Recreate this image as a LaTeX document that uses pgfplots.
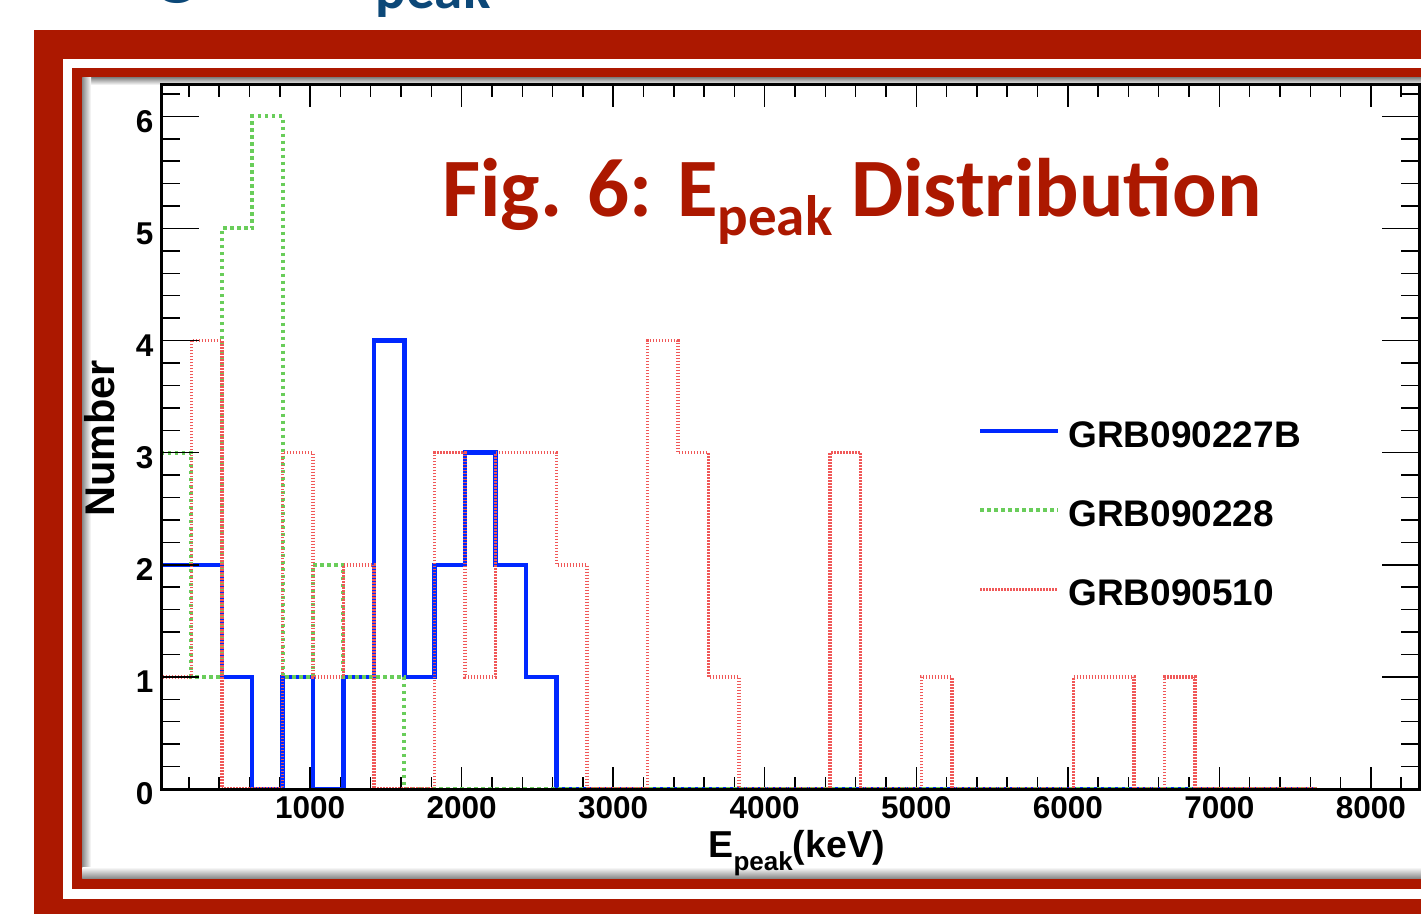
\documentclass[border=0pt]{standalone}
\usepackage{fontspec}
\setmainfont{Liberation Sans}
\newfontfamily\calibri{Carlito}
\usepackage{pgfplots}
\usepackage{pgfplotstable}
\pgfplotsset{compat=1.18}

\definecolor{framered}{RGB}{172,24,0}
\definecolor{hblue}{RGB}{0,40,255}
\definecolor{hgreen}{RGB}{105,205,90}
\definecolor{hred}{RGB}{240,88,88}
\definecolor{headblue}{RGB}{12,72,120}

% bin left edge, then counts for each burst
\pgfplotstableread{
e       b  g  r
16      0  0  0
16      2  3  1
216.7   2  1  4
417.4   1  5  0
618.1   0  6  0
818.8   1  1  3
1019.5  0  2  1
1220.2  1  1  2
1420.9  4  1  0
1621.6  1  0  0
1822.3  2  0  3
2023    3  0  1
2223.7  2  0  3
2424.4  1  0  3
2625.1  0  0  2
2825.8  0  0  0
3026.5  0  0  0
3227.2  0  0  4
3427.9  0  0  3
3628.6  0  0  1
3829.3  0  0  0
4030    0  0  0
4230.7  0  0  0
4431.4  0  0  3
4632.1  0  0  0
4832.8  0  0  0
5033.5  0  0  1
5234.2  0  0  0
5434.9  0  0  0
5635.6  0  0  0
5836.3  0  0  0
6037    0  0  1
6237.7  0  0  1
6438.4  0  0  0
6639.1  0  0  1
6839.8  0  0  0
7040.5  0  0  0
7241.2  0  0  0
7441.9  0  0  0
7642.6  0  0  0
}\hist

\newcommand{\headfont}{\calibri\bfseries\fontsize{83}{96}\selectfont}
\newcommand{\headsub}[1]{\raisebox{-19pt}{\fontsize{57}{57}\selectfont #1}}

\pgfplotsset{
  rootframe/.style={
    at={(161pt,125pt)}, anchor=south west,
    scale only axis, width=1258.5pt, height=704pt,
    xmin=16, xmax=8321, ymin=0, ymax=6.28,
    axis line style={line width=3pt},
    tick align=inside,
    tick style={black, line width=1.5pt},
    ticklabel style={font=\bfseries\fontsize{31.5}{38}\selectfont},
    /pgf/number format/assume math mode=true,
    /pgf/number format/1000 sep={},
  },
}

\begin{document}
\begin{tikzpicture}[x=1pt,y=1pt]
\clip (0,0) rectangle (1421,914);

% poster frame
\fill[framered] (34,0) rectangle (1421,884);
\fill[white] (63,15) rectangle (1421,855);
\fill[framered] (72.3,25) rectangle (1421,846);
\fill[white] (82.3,36) rectangle (1421,836);
\shade[top color=black!45, bottom color=white] (82.3,829) rectangle (1421,836);
\shade[left color=black!45, right color=white] (82.3,36) rectangle (91,836);
\shade[bottom color=black!45, top color=white] (82.3,36) rectangle (1421,47);

% headings
\node[anchor=base west, inner sep=0, text=headblue, font=\headfont] at (100,914)
  {\smash{\raisebox{10pt}{Fig. 5: E\headsub{peak}}}};
\node[anchor=base west, inner sep=0, text=framered, font=\headfont] at (442,697)
  {Fig. 6: E\headsub{peak} Distribution};

% histograms, x ticks, legend
\begin{axis}[
    rootframe,
    xtick={1000,2000,...,8000},
    minor xtick={200,400,...,8200},
    ytick=\empty,
    major tick length=22pt, minor tick length=12pt,
    xticklabel style={yshift=-4pt},
    xlabel={E\raisebox{-13pt}{\fontsize{26}{26}\selectfont peak}(keV)},
    xlabel style={font=\bfseries\fontsize{37.5}{44}\selectfont,
        at={(axis description cs:0.505,0)}, anchor=base, yshift=-68pt},
    legend style={draw=none, fill=none, inner sep=0pt,
        at={(axis description cs:0.649,0.534)}, anchor=north west,
        font=\bfseries\fontsize{37}{44}\selectfont, row sep=36pt,
        nodes={inner sep=8pt},
        /tikz/every even column/.append style={column sep=10pt}},
    legend cell align=left,
    legend image code/.code={\draw[#1] (0pt,4pt) -- (78pt,4pt);},
]
\addplot[const plot, hblue, line width=4.5pt] table[x=e, y=b] {\hist};
\addplot[const plot, hgreen, line width=4pt, dash pattern=on 3.5pt off 3.5pt] table[x=e, y=g] {\hist};
\addplot[const plot, hred, line width=3.5pt, dash pattern=on 1.5pt off 1.5pt] table[x=e, y=r] {\hist};
\legend{GRB090227B, GRB090228, GRB090510}
\end{axis}

% y ticks with their own lengths
\begin{axis}[
    rootframe,
    xtick=\empty,
    ytick={0,1,...,6},
    minor ytick={0.2,0.4,...,6.2},
    major tick length=38pt, minor tick length=19pt,
    yticklabel style={yshift=-5pt, xshift=-4pt},
    ylabel={Number},
    ylabel style={font=\bfseries\fontsize{41.5}{48}\selectfont,
        at={(axis description cs:-0.0366,0.498)}, anchor=base},
]
\end{axis}
\end{tikzpicture}
\end{document}
